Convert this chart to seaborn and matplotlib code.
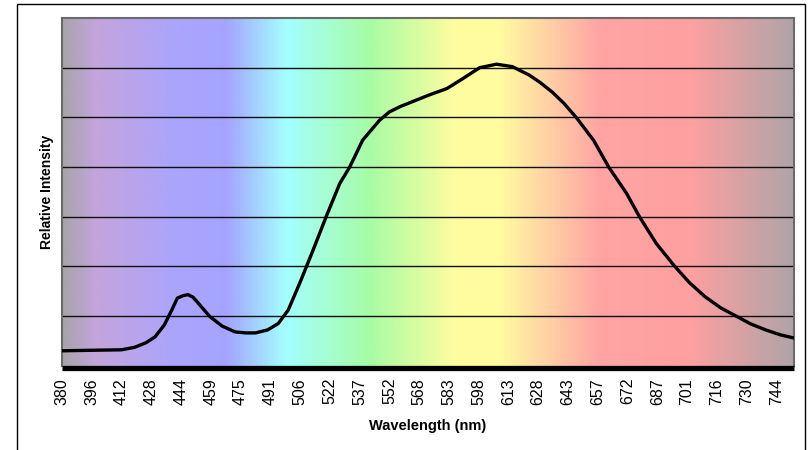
import numpy as np
import pandas as pd
import matplotlib
matplotlib.use("Agg")
import matplotlib.pyplot as plt
import seaborn as sns
from matplotlib.colors import LinearSegmentedColormap
from matplotlib.patches import Rectangle

# Emission spectrum (intensity in grid units)
wavelength = [380, 395, 412, 419, 425, 430, 435, 439, 442, 445, 447.5, 450,
              452, 455, 458.5, 465, 472, 478, 483, 489.5, 495, 500, 506, 513,
              520, 527, 532, 538.5, 547, 552, 558, 564, 573, 582, 590, 598.5,
              607, 615, 623.5, 629, 635, 641, 647, 655, 662.5, 671.5, 678,
              686.5, 695, 702, 710, 718, 725, 732, 739, 746, 752]
intensity = [0.30, 0.31, 0.32, 0.37, 0.46, 0.58, 0.82, 1.12, 1.36, 1.41, 1.43,
             1.38, 1.29, 1.15, 0.99, 0.80, 0.68, 0.66, 0.66, 0.72, 0.85, 1.12,
             1.68, 2.33, 3.00, 3.67, 4.00, 4.54, 4.94, 5.11, 5.22, 5.31, 5.45,
             5.58, 5.78, 6.00, 6.07, 6.02, 5.85, 5.70, 5.51, 5.28, 4.99, 4.54,
             4.00, 3.47, 3.00, 2.46, 2.01, 1.68, 1.39, 1.16, 1.00, 0.84, 0.72,
             0.62, 0.56]

# category-style axis labels (unevenly spaced wavelengths)
tick_wl = [380, 396, 412, 428, 444, 459, 475, 491, 506, 522, 537, 552, 568,
           583, 598, 613, 628, 643, 657, 672, 687, 701, 716, 730, 744]

# background spectrum colours
bg_pos = [0.0, 0.045, 0.148, 0.223, 0.305, 0.421, 0.537, 0.598, 0.66, 0.735, 0.858, 1.0]
bg_col = ["#a8a4ac", "#c4a4dc", "#aca4fc", "#a4a4ff", "#a4ffff", "#a8fca4",
          "#fffca0", "#fffca0", "#ffd4a4", "#ffa4a4", "#ffa0a0", "#b0a4a8"]

df = pd.DataFrame({"wavelength": wavelength, "intensity": intensity})

sns.set_style("white")
plt.rcParams["font.family"] = ["Liberation Sans", "DejaVu Sans"]
plt.rcParams["text.color"] = "black"
plt.rcParams["axes.labelcolor"] = "black"
plt.rcParams["xtick.color"] = "black"

fig = plt.figure(figsize=(8.08, 4.5), dpi=100)
ax = fig.add_axes([62 / 808, 84.3 / 450, 732 / 808, 347.7 / 450])

# spectrum gradient behind the data
cmap = LinearSegmentedColormap.from_list("spec", list(zip(bg_pos, bg_col)))
ax.imshow(np.linspace(0, 1, 600)[None, :], cmap=cmap, aspect="auto",
          extent=(0, 1, 0, 1), transform=ax.transAxes, zorder=0,
          interpolation="bilinear")

sns.lineplot(data=df, x="wavelength", y="intensity", color="black",
             linewidth=2.4, ax=ax, zorder=3)
for ln in ax.get_lines():
    ln.set_solid_joinstyle("round")

# x axis behaves like a category axis: ticks evenly spaced
knots = tick_wl + [758]
idx = np.arange(len(knots), dtype=float)
ax.set_xscale("function",
              functions=(lambda w: np.interp(w, knots, idx),
                         lambda i: np.interp(i, idx, knots)))
ax.set_xlim(380, 752.3)
ax.set_ylim(0, 7)

ax.set_xticks(tick_wl)
ax.set_xticklabels([str(w) for w in tick_wl])
ax.set_yticks(range(1, 7))
ax.set_yticklabels([])
ax.tick_params(axis="both", length=0)
ax.tick_params(axis="x", pad=7, labelrotation=90, labelsize=11.5, labelcolor="black")
ax.yaxis.grid(True, color="#111111", linewidth=1.0, zorder=1)
ax.xaxis.grid(False)
ax.set_axisbelow(True)

for side in ["top", "left", "right"]:
    ax.spines[side].set_color("#6a6a6a")
    ax.spines[side].set_linewidth(1.5)
ax.spines["bottom"].set_color("black")
ax.spines["bottom"].set_linewidth(3.8)
ax.spines["bottom"].set_capstyle("butt")
ax.spines["bottom"].set_position(("outward", 1.8))

ax.set_xlabel("Wavelength (nm)", fontsize=10.5, fontweight="bold", labelpad=10)
ax.set_ylabel("Relative Intensity", fontsize=10, fontweight="bold", labelpad=2)

# outer chart border
fig.patches.append(Rectangle((17 / 808, -0.05), 788 / 808, 1.05 - 4 / 450,
                             transform=fig.transFigure, fill=False,
                             edgecolor="black", linewidth=1.0))

plt.savefig("out.png", dpi=100)
